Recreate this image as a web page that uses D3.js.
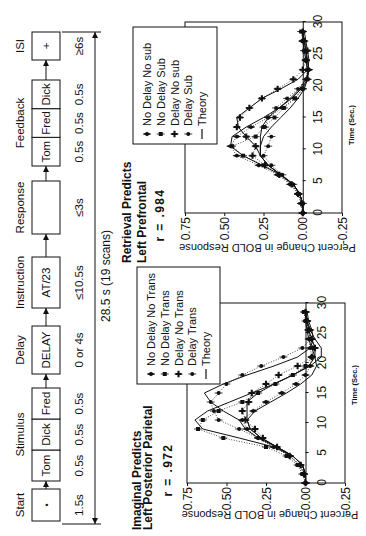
<!DOCTYPE html>
<html>
<head>
<meta charset="utf-8">
<script src="https://cdn.jsdelivr.net/npm/d3@7"></script>
<style>
  body { margin: 0; background: #fff; }
  svg { display: block; }
  text { font-family: "Liberation Sans", Arial, sans-serif; fill: #111; }
</style>
</head>
<body>
<div id="figure"></div>
<script>
// ---- data ----
const scanTimes = [0, 1.5, 3, 4.5, 6, 7.5, 9, 10.5, 12, 13.5, 15, 16.5, 18, 19.5, 21, 22.5, 24, 25.5, 27, 28.5];
const timeTicks = [0, 5, 10, 15, 20, 25, 30];
const valueTicks = [-0.25, 0, 0.25, 0.5, 0.75];

const imaginalNames = ["No Delay No Trans", "No Delay Trans", "Delay No Trans", "Delay Trans"];
const imaginalObserved = [
  [0.00, 0.01, 0.04, 0.10, 0.20, 0.30, 0.37, 0.40, 0.33, 0.25, 0.15, 0.06, 0.00, -0.03, -0.04, -0.03, -0.02, -0.03, -0.01, 0.00],
  [0.00, 0.02, 0.05, 0.12, 0.25, 0.52, 0.68, 0.65, 0.55, 0.40, 0.30, 0.19, 0.08, 0.00, -0.04, -0.05, -0.03, -0.02, 0.00, 0.01],
  [0.00, 0.01, 0.03, 0.10, 0.18, 0.27, 0.32, 0.38, 0.40, 0.36, 0.34, 0.25, 0.17, 0.05, -0.04, -0.06, -0.04, -0.02, -0.01, 0.00],
  [0.00, 0.01, 0.04, 0.10, 0.20, 0.30, 0.42, 0.55, 0.58, 0.60, 0.55, 0.50, 0.40, 0.28, 0.14, 0.02, -0.03, -0.02, -0.01, 0.00]
];
const imaginalTheory = [
  [0, 0, 0.02, 0.08, 0.18, 0.28, 0.35, 0.37, 0.32, 0.22, 0.12, 0.03, -0.04, -0.07, -0.06, -0.04, -0.02, -0.01, 0, 0],
  [0, 0, 0.02, 0.08, 0.20, 0.42, 0.65, 0.70, 0.62, 0.48, 0.34, 0.20, 0.08, -0.02, -0.06, -0.06, -0.04, -0.02, -0.01, 0],
  [0, 0, 0.02, 0.08, 0.18, 0.28, 0.35, 0.37, 0.37, 0.37, 0.30, 0.20, 0.08, -0.03, -0.10, -0.10, -0.06, -0.03, -0.01, 0],
  [0, 0, 0.02, 0.08, 0.18, 0.30, 0.38, 0.42, 0.52, 0.60, 0.64, 0.52, 0.37, 0.20, 0.05, -0.03, -0.05, -0.04, -0.02, -0.01]
];

const retrievalNames = ["No Delay No sub", "No Delay Sub", "Delay No sub", "Delay Sub"];
const retrievalObserved = [
  [0.00, 0.01, 0.03, 0.08, 0.16, 0.28, 0.42, 0.46, 0.42, 0.33, 0.22, 0.13, 0.05, 0.00, -0.03, -0.04, -0.02, -0.02, 0.00, 0.00],
  [0.00, 0.00, 0.03, 0.07, 0.15, 0.25, 0.38, 0.45, 0.30, 0.25, 0.18, 0.12, 0.05, 0.00, -0.03, -0.03, -0.02, -0.01, 0.00, 0.01],
  [0.00, 0.01, 0.03, 0.07, 0.15, 0.24, 0.32, 0.30, 0.36, 0.42, 0.40, 0.34, 0.26, 0.16, 0.06, 0.00, -0.02, -0.03, -0.01, 0.00],
  [0.00, 0.00, 0.02, 0.06, 0.13, 0.20, 0.25, 0.22, 0.20, 0.24, 0.22, 0.17, 0.10, 0.03, -0.02, -0.03, -0.02, -0.01, 0.00, 0.00]
];
const retrievalTheory = [
  [0, 0, 0.02, 0.06, 0.14, 0.26, 0.38, 0.46, 0.45, 0.36, 0.25, 0.15, 0.07, 0.01, -0.03, -0.04, -0.03, -0.02, -0.01, 0],
  [0, 0, 0.02, 0.06, 0.14, 0.22, 0.27, 0.27, 0.25, 0.20, 0.14, 0.08, 0.03, -0.01, -0.03, -0.03, -0.02, -0.01, 0, 0],
  [0, 0, 0.02, 0.06, 0.14, 0.22, 0.27, 0.30, 0.36, 0.41, 0.42, 0.34, 0.26, 0.14, 0.03, -0.03, -0.04, -0.03, -0.02, -0.01],
  [0, 0, 0.02, 0.06, 0.14, 0.22, 0.27, 0.27, 0.27, 0.26, 0.22, 0.15, 0.08, 0.02, -0.02, -0.04, -0.03, -0.02, -0.01, 0]
];

const stageLabels = ["Start", "Stimulus", "Delay", "Instruction", "Response", "Feedback", "ISI"];
const stageCells = [["•"], ["Tom", "Dick", "Fred"], ["DELAY"], ["AT/23"], [""], ["Tom", "Fred", "Dick"], ["+"]];
const stageDurations = [["1.5s"], ["0.5s", "0.5s", "0.5s"], ["0 or 4s"], ["≤10.5s"], ["≤3s"], ["0.5s", "0.5s", "0.5s"], ["≥6s"]];
const trialLength = "28.5 s (19 scans)";

// ---- layout (figure is built landscape 536 x 366, then turned) ----
const W = 366, H = 536;
const stageSpans = [[15, 47], [55, 148], [162, 210], [228, 279], [302, 355], [370, 456], [476, 504]];
const boxTop = 32, boxBot = 60;

const svg = d3.select("#figure").append("svg")
  .attr("width", W).attr("height", H);

const defs = svg.append("defs");
defs.append("marker")
  .attr("id", "arrow")
  .attr("viewBox", "0 0 8 8")
  .attr("refX", 8).attr("refY", 4)
  .attr("markerWidth", 6).attr("markerHeight", 6)
  .attr("markerUnits", "userSpaceOnUse")
  .attr("orient", "auto-start-reverse")
  .append("path").attr("d", "M0,0L8,4L0,8Z").attr("fill", "#111");

const root = svg.append("g").attr("transform", `translate(0,${H}) rotate(-90)`);

// ---- trial timeline ----
const tl = root.append("g").attr("class", "timeline");
stageSpans.forEach((span, i) => {
  const [a, b] = span;
  const mid = (a + b) / 2;
  tl.append("text").attr("x", mid).attr("y", 24)
    .attr("text-anchor", "middle").attr("font-size", 11.5).text(stageLabels[i]);
  const cells = stageCells[i];
  const cw = (b - a) / cells.length;
  cells.forEach((c, j) => {
    tl.append("rect").attr("x", a + j * cw).attr("y", boxTop)
      .attr("width", cw).attr("height", boxBot - boxTop)
      .attr("fill", "#fff").attr("stroke", "#111").attr("stroke-width", 1);
    tl.append("text").attr("x", a + (j + 0.5) * cw).attr("y", (boxTop + boxBot) / 2 + 4)
      .attr("text-anchor", "middle").attr("font-size", c === "•" ? 9 : 11.5).text(c);
  });
  const durs = stageDurations[i];
  const dw = (b - a) / durs.length;
  durs.forEach((d, j) => {
    tl.append("text").attr("x", a + (j + 0.5) * dw).attr("y", 83)
      .attr("text-anchor", "middle").attr("font-size", 11.5).text(d);
  });
  if (i < stageSpans.length - 1) {
    tl.append("line").attr("x1", b).attr("x2", stageSpans[i + 1][0])
      .attr("y1", (boxTop + boxBot) / 2).attr("y2", (boxTop + boxBot) / 2)
      .attr("stroke", "#111").attr("marker-end", "url(#arrow)");
  }
});
const spanL = 12, spanR = 504;
tl.append("line").attr("x1", spanL).attr("x2", spanR).attr("y1", 95).attr("y2", 95)
  .attr("stroke", "#111").attr("marker-start", "url(#arrow)").attr("marker-end", "url(#arrow)");
[spanL, spanR].forEach(u => tl.append("line").attr("x1", u).attr("x2", u)
  .attr("y1", 62).attr("y2", 101).attr("stroke", "#111"));
tl.append("text").attr("x", (spanL + spanR) / 2 + 2).attr("y", 110)
  .attr("text-anchor", "middle").attr("font-size", 12).text(trialLength);

// ---- response panels ----
const symbolTypes = [d3.symbolDiamond, d3.symbolSquare, d3.symbolCross, d3.symbolCircle];
const symbolSizes = [16, 16, 22, 12];

function drawPanel(cfg) {
  const x = d3.scaleLinear().domain([0, 30]).range([cfg.u0, cfg.u1]);
  const y = d3.scaleLinear().domain([-0.25, 0.75]).range([cfg.vBot, cfg.vTop]);
  const g = root.append("g");

  g.append("rect")
    .attr("x", x(0)).attr("y", y(0.75))
    .attr("width", x(30) - x(0)).attr("height", y(-0.25) - y(0.75))
    .attr("fill", "none").attr("stroke", "#111");

  const yAxis = g.append("g").attr("transform", `translate(${x(0)},0)`)
    .call(d3.axisLeft(y).tickValues(valueTicks).tickFormat(d => d.toFixed(2))
      .tickSize(3).tickPadding(1).tickSizeOuter(0));
  yAxis.select(".domain").remove();
  yAxis.selectAll("text").attr("font-size", 12).attr("font-family", null)
    .attr("dy", "0.35em").attr("fill", "#111");

  const xAxis = g.append("g").attr("transform", `translate(0,${y(0)})`)
    .call(d3.axisBottom(x).tickValues(timeTicks).tickSize(3).tickPadding(cfg.tickPad).tickSizeOuter(0));
  xAxis.selectAll("text").attr("font-size", 12).attr("font-family", null).attr("fill", "#111");
  xAxis.selectAll("path,line").attr("stroke", "#111");
  yAxis.selectAll("line").attr("stroke", "#111");

  const line = d3.line().x((d, i) => x(scanTimes[i])).y(d => y(d));

  cfg.observed.forEach(series => {
    g.append("path").attr("d", line(series))
      .attr("fill", "none").attr("stroke", "#222").attr("stroke-width", 0.8)
      .attr("stroke-dasharray", "1,1.6");
  });
  cfg.theory.forEach(series => {
    g.append("path").attr("d", line(series))
      .attr("fill", "none").attr("stroke", "#111").attr("stroke-width", 1);
  });
  cfg.observed.forEach((series, k) => {
    const pts = g.append("g");
    series.forEach((v, i) => {
      const px = x(scanTimes[i]), py = y(v);
      pts.append("line").attr("x1", px).attr("x2", px)
        .attr("y1", py - 4).attr("y2", py + 4).attr("stroke", "#111").attr("stroke-width", 0.8);
      pts.append("path").attr("transform", `translate(${px},${py})`)
        .attr("d", d3.symbol().type(symbolTypes[k]).size(symbolSizes[k])())
        .attr("fill", "#111");
    });
  });

  // legend
  const lg = g.append("g");
  lg.append("rect").attr("x", cfg.legU0).attr("y", cfg.legV0)
    .attr("width", cfg.legU1 - cfg.legU0).attr("height", cfg.legV1 - cfg.legV0)
    .attr("fill", "#fff").attr("stroke", "#111");
  const entries = cfg.names.concat(["Theory"]);
  entries.forEach((name, k) => {
    const ly = cfg.legV0 + 14 + k * 13.75;
    const mx = cfg.legU0 + 10;
    if (k < cfg.names.length) {
      lg.append("line").attr("x1", mx).attr("x2", mx).attr("y1", ly - 4).attr("y2", ly + 4)
        .attr("stroke", "#111").attr("stroke-width", 0.8);
      lg.append("path").attr("transform", `translate(${mx},${ly})`)
        .attr("d", d3.symbol().type(symbolTypes[k]).size(symbolSizes[k])()).attr("fill", "#111");
    } else {
      lg.append("line").attr("x1", mx - 5).attr("x2", mx + 5).attr("y1", ly).attr("y2", ly)
        .attr("stroke", "#111").attr("stroke-width", 1.2);
    }
    lg.append("text").attr("x", cfg.legU0 + 18).attr("y", ly + 4)
      .attr("font-size", 11).text(name);
  });

  // titles
  cfg.title.forEach((t, k) => {
    g.append("text").attr("x", cfg.titleU).attr("y", cfg.titleV[k])
      .attr("font-size", 12).attr("font-weight", "bold").text(t);
  });
  g.append("text").attr("x", cfg.rU).attr("y", cfg.rV)
    .attr("text-anchor", "middle").attr("font-size", 12).attr("font-weight", "bold")
    .attr("letter-spacing", 1.4).text(cfg.r);

  g.append("text").attr("x", cfg.timeTitleU).attr("y", cfg.vBot + 12)
    .attr("text-anchor", "middle").attr("font-size", 7.5).attr("font-weight", "bold")
    .text("Time (Sec.)");
  g.append("text")
    .attr("transform", `translate(${cfg.valueTitleU},${(cfg.vTop + cfg.vBot) / 2 + 4}) rotate(-90)`)
    .attr("text-anchor", "middle").attr("font-size", 11)
    .text("Percent Change in BOLD Response");
}

drawPanel({
  u0: 53, u1: 233, vTop: 187, vBot: 345, tickPad: 9,
  observed: imaginalObserved, theory: imaginalTheory, names: imaginalNames,
  legU0: 152, legU1: 269, legV0: 137, legV1: 220,
  title: ["Imaginal Predicts", "Left Posterior Parietal"], titleU: 6, titleV: [141, 152],
  r: "r = .972", rU: 66, rV: 172,
  timeTitleU: 151, valueTitleU: 25
});

drawPanel({
  u0: 323, u1: 514, vTop: 185, vBot: 342, tickPad: 8,
  observed: retrievalObserved, theory: retrievalTheory, names: retrievalNames,
  legU0: 392, legU1: 509, legV0: 133, legV1: 217,
  title: ["Retrieval Predicts", "Left Prefrontal"], titleU: 273, titleV: [131, 146],
  r: "r = .984", rU: 321, rV: 164,
  timeTitleU: 411, valueTitleU: 292
});
</script>
</body>
</html>
